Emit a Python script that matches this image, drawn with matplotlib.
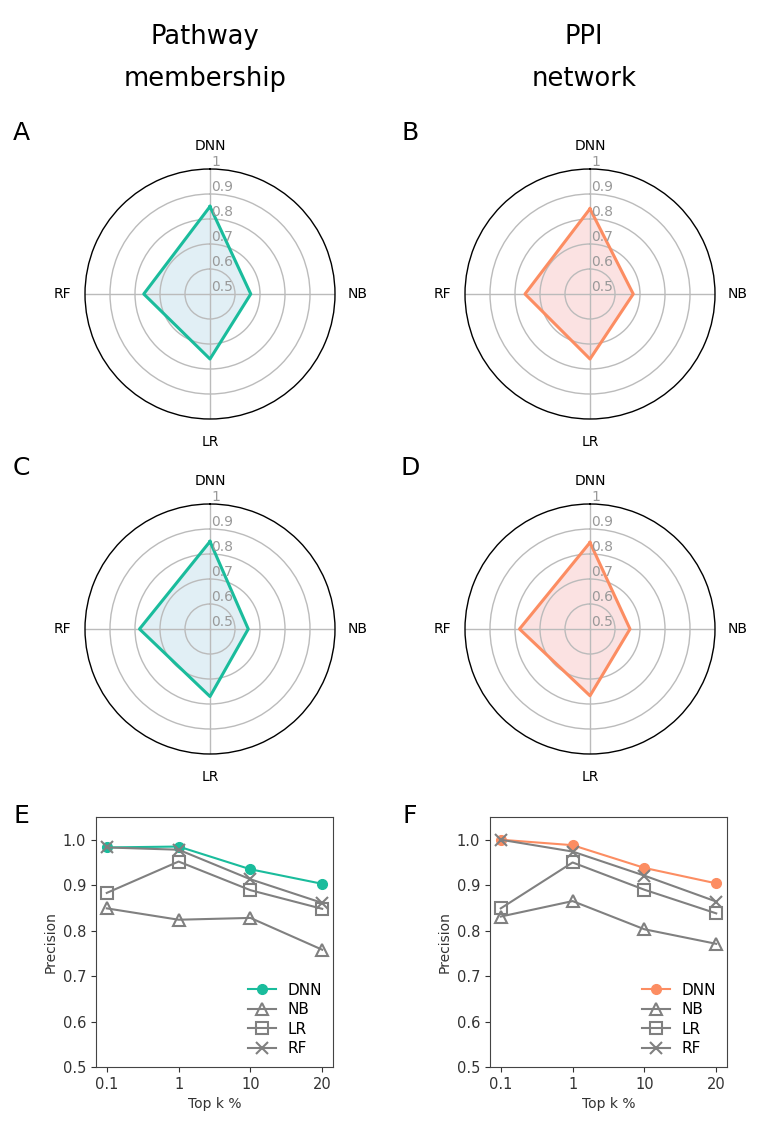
import numpy as np
import matplotlib
matplotlib.use('Agg')
import matplotlib.pyplot as plt

# ---------------- data ----------------
models = ['DNN', 'NB', 'LR', 'RF']
radar_A = [0.850, 0.663, 0.760, 0.765]
radar_B = [0.841, 0.673, 0.760, 0.760]
radar_C = [0.850, 0.653, 0.770, 0.782]
radar_D = [0.846, 0.660, 0.767, 0.782]
radar_ticks = [0.5, 0.6, 0.7, 0.8, 0.9, 1.0]
radar_tick_labels = ['0.5', '0.6', '0.7', '0.8', '0.9', '1']

topk_labels = ['0.1', '1', '10', '20']
E_DNN = [0.983, 0.985, 0.935, 0.903]
E_NB = [0.849, 0.824, 0.828, 0.758]
E_LR = [0.883, 0.952, 0.889, 0.848]
E_RF = [0.983, 0.978, 0.913, 0.861]
F_DNN = [1.000, 0.988, 0.938, 0.904]
F_NB = [0.831, 0.865, 0.803, 0.771]
F_LR = [0.849, 0.950, 0.890, 0.838]
F_RF = [1.000, 0.974, 0.921, 0.864]

col_titles = ['Pathway\nmembership', 'PPI\nnetwork']
teal = '#1abc9c'
orange = '#fc8d62'

W, H = 759, 1122
fig = plt.figure(figsize=(W / 100, H / 100), dpi=100)


def px_rect(left, top, width, height):
    return [left / W, 1 - (top + height) / H, width / W, height / H]


def radar(cx, cy, vals, line_color, fill_color):
    R = 125
    ax = fig.add_axes(px_rect(cx - R, cy - R, 2 * R, 2 * R), projection='polar')
    ax.set_theta_zero_location('N')
    ax.set_theta_direction(-1)
    theta = np.arange(len(models)) * 2 * np.pi / len(models)
    t = np.append(theta, theta[0])
    v = np.append(vals, vals[0])
    ax.fill(t, v, color=fill_color, alpha=0.3, lw=0, zorder=1)
    ax.plot(t, v, color=line_color, lw=2.2, zorder=3)
    ax.set_ylim(0.5, 1.0)
    ax.set_yticks([0.6, 0.7, 0.8, 0.9])
    ax.set_yticklabels([])
    ax.set_xticks(theta)
    ax.set_xticklabels(models, fontsize=10)
    ax.tick_params(axis='x', pad=6)
    ax.grid(color='#bbbbbb', lw=1)
    ax.spines['polar'].set_color('black')
    ax.spines['polar'].set_linewidth(1.0)
    for val, lab in zip(radar_ticks, radar_tick_labels):
        ax.annotate(lab, xy=(0, val), xytext=(1, 0), textcoords='offset points',
                    ha='left', va='bottom', color='#999999', fontsize=10,
                    annotation_clip=False, zorder=4)
    return ax


def lineplot(left, vals, dnn_color):
    dnn, nb, lr, rf = vals
    ax = fig.add_axes(px_rect(left, 817, 237, 250))
    x = np.arange(len(topk_labels))
    gray = '#808080'
    ax.plot(x, dnn, color=dnn_color, marker='o', ms=7, lw=1.5, label='DNN')
    ax.plot(x, nb, color=gray, marker='^', ms=9, mfc='none', mew=1.5, lw=1.5, label='NB')
    ax.plot(x, lr, color=gray, marker='s', ms=8, mfc='none', mew=1.5, lw=1.5, label='LR')
    ax.plot(x, rf, color=gray, marker='x', ms=8, mew=1.5, lw=1.5, label='RF')
    ax.set_xticks(x)
    ax.set_xticklabels(topk_labels)
    ax.set_xlim(-0.15, 3.15)
    ax.set_ylim(0.5, 1.05)
    ax.set_yticks(np.arange(0.5, 1.01, 0.1))
    ax.yaxis.set_major_formatter('{x:.1f}')
    ax.set_xlabel('Top k %', fontsize=10, color='#333333')
    ax.set_ylabel('Precision', fontsize=10, color='#333333')
    ax.tick_params(labelsize=10.5, colors='#333333')
    for s in ax.spines.values():
        s.set_color('#444444')
    ax.legend(loc='lower right', frameon=False, fontsize=11, handlelength=1.8,
              labelspacing=0.3, borderaxespad=0.3)
    return ax


radar(210, 294, radar_A, teal, '#9ecae1')
radar(590, 294, radar_B, orange, '#f4a0a0')
radar(210, 629, radar_C, teal, '#9ecae1')
radar(590, 629, radar_D, orange, '#f4a0a0')

lineplot(96, (E_DNN, E_NB, E_LR, E_RF), teal)
lineplot(490, (F_DNN, F_NB, F_LR, F_RF), orange)

fig.text(205 / W, 1 - 58 / H, col_titles[0], ha='center', va='center', fontsize=18.5, linespacing=1.75)
fig.text(584 / W, 1 - 58 / H, col_titles[1], ha='center', va='center', fontsize=18.5, linespacing=1.75)

for lab, x, y in [('A', 21, 133), ('B', 410, 133), ('C', 21, 468), ('D', 410, 468),
                  ('E', 21, 816), ('F', 410, 816)]:
    fig.text(x / W, 1 - y / H, lab, ha='center', va='center', fontsize=18)

fig.savefig('out.png', dpi=100)
